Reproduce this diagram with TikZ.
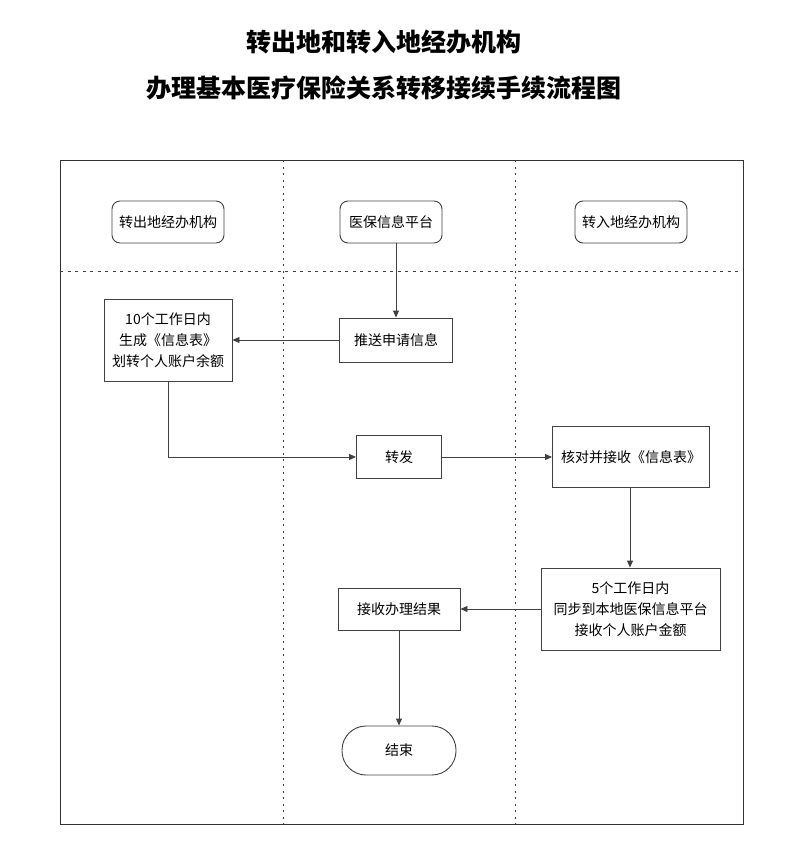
\documentclass[tikz,border=0pt]{standalone}
\usepackage{fontspec}
\newfontfamily\cjk{Noto Sans CJK SC}
\usetikzlibrary{positioning,arrows.meta}

\begin{document}
\begin{tikzpicture}[x=1pt,y=-1pt,
	font=\cjk\fontsize{14}{21}\selectfont, line width=0.9pt, draw=black!75,
	box/.style={draw=black!75, align=center, inner sep=0pt},
	head/.style={box, rounded corners=8pt, minimum width=112pt, minimum height=42pt},
	flow/.style={-{Triangle[length=7pt,width=6pt]}, draw=black!75}]
	\useasboundingbox (0,0) rectangle (812,855);
	% title
	\node (t1) at (384,42) {\fontsize{25}{30}\selectfont\bfseries 转出地和转入地经办机构};
	\node (t2) at (384,88) {\fontsize{25}{30}\selectfont\bfseries 办理基本医疗保险关系转移接续手续流程图};
	% lanes
	\draw[black!80] (60,160) rectangle (743,824);
	\draw[black!75, dash pattern=on 2pt off 4.5pt] (283,160)--(283,824);
	\draw[black!75, dash pattern=on 2pt off 4.5pt] (515,160)--(515,824);
	\draw[black!75, dash pattern=on 3pt off 4.5pt] (60,271)--(743,271);
	% headers
	\node[head] (hout) at (168,222) {转出地经办机构};
	\node[head, minimum width=102pt] (hpf) at (391,222) {医保信息平台};
	\node[head] (hin) at (631,222) {转入地经办机构};
	% steps
	\node[box, minimum width=113pt, minimum height=44pt] (push) at (396,340) {推送申请信息};
	\node[box, minimum width=128pt, minimum height=82pt] (gen) at (168,340) {10个工作日内\\生成《信息表》\\划转个人账户余额};
	\node[box, minimum width=85pt, minimum height=43pt] (fwd) at (399,457) {转发};
	\node[box, minimum width=157pt, minimum height=61pt] (check) at (631,457) {核对并接收《信息表》};
	\node[box, minimum width=179pt, minimum height=82pt] (sync) at (630.5,609) {5个工作日内\\同步到本地医保信息平台\\接收个人账户金额};
	\node[box, minimum width=122pt, minimum height=42pt] (recv) at (399,609) {接收办理结果};
	\node[box, rounded corners=24pt, minimum width=114pt, minimum height=49pt] (endn) at (399,750.5) {结束};
	% connectors
	\draw[flow] (push.north |- hpf.south) -- (push.north);
	\draw[flow] (push.west) -- (gen.east);
	\draw[flow] (gen.south) |- (fwd.west);
	\draw[flow] (fwd.east) -- (check.west);
	\draw[flow] (check.south -| 630,0) -- (sync.north -| 630,0);
	\draw[flow] (sync.west) -- (recv.east);
	\draw[flow] (recv.south) -- (endn.north);
\end{tikzpicture}
\end{document}
